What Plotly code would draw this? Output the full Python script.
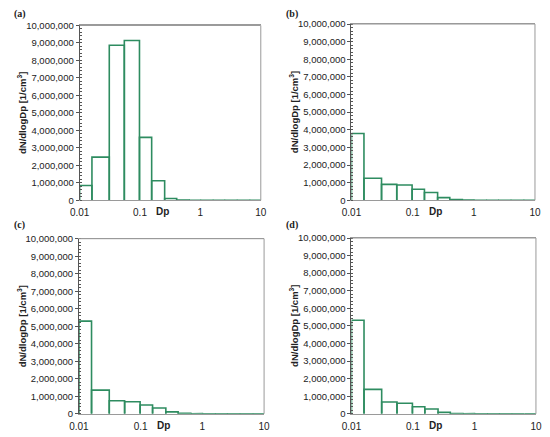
import plotly.graph_objects as go

# Bin edges of the size classes (Dp, µm)
edges = [0.01, 0.016, 0.031, 0.055, 0.098, 0.156, 0.256, 0.405, 0.65, 1.0, 1.6, 2.5, 4.0, 6.5, 10]

# dN/dlogDp per bin for the four panels
vals_a = [850000, 2470000, 8870000, 9140000, 3600000, 1120000, 100000, 15000, 5000, 2000, 1000, 500, 300, 200]
vals_b = [3790000, 1250000, 900000, 870000, 630000, 440000, 150000, 40000, 10000, 4000, 2000, 1000, 500, 300]
vals_c = [5290000, 1350000, 740000, 690000, 500000, 330000, 110000, 20000, 6000, 2000, 1000, 500, 300, 200]
vals_d = [5320000, 1390000, 670000, 600000, 400000, 270000, 80000, 15000, 5000, 2000, 1000, 500, 300, 200]

panel_labels = ["(a)", "(b)", "(c)", "(d)"]
y_ticks = [0, 1000000, 2000000, 3000000, 4000000, 5000000, 6000000, 7000000, 8000000, 9000000, 10000000]
x_ticks = [0.01, 0.1, 1, 10]
x_ticklabels = ["0.01", "0.1", "1", "10"]
y_title = "dN/dlogDp [1/cm<sup>3</sup>]"
x_title = "Dp"

W, H = 550, 437
GREEN = "rgb(46,140,96)"
FONT = "Liberation Sans, Arial, sans-serif"

# plot areas in pixels: (left, right, top, bottom)
areas = [
    (71.7, 258.3, 20.0, 199.3),
    (351.7, 540.7, 18.5, 199.3),
    (71.0, 261.7, 238.7, 418.3),
    (351.7, 541.7, 238.0, 418.3),
]
label_pos = [(2, 8), (282, 8), (2, 225), (282, 225)]
ytitle_x = [12.5, 292.5, 12.5, 292.5]

fig = go.Figure()
all_vals = [vals_a, vals_b, vals_c, vals_d]

for i, vals in enumerate(all_vals):
    xs, ys = [], []
    for k, h in enumerate(vals):
        l, r = edges[k], edges[k + 1]
        xs += [l, l, r, r, None]
        ys += [0, h, h, 0, None]
    ax = "" if i == 0 else str(i + 1)
    fig.add_trace(go.Scatter(x=xs, y=ys, mode="lines",
                             line=dict(color=GREEN, width=1.6),
                             xaxis="x" + ax, yaxis="y" + ax,
                             showlegend=False, hoverinfo="skip"))
    L, R, T, B = areas[i]
    xd = [L / W, R / W]
    yd = [1 - B / H, 1 - T / H]
    fig.update_layout(**{
        "xaxis" + ax: dict(type="log", range=[-2, 1], domain=xd,
                           tickvals=x_ticks, ticktext=x_ticklabels,
                           showgrid=False, zeroline=False, ticks="",
                           ticklabelstandoff=3,
                           showline=True, linecolor="#9a9a9a", linewidth=1,
                           mirror=True,
                           tickfont=dict(family=FONT, size=10, color="#222"),
                           anchor="y" + ax),
        "yaxis" + ax: dict(range=[0, 10000000], domain=yd,
                           tickvals=y_ticks, tickformat=",d",
                           showgrid=False, zeroline=False,
                           ticks="outside", ticklen=3, tickcolor="#555",
                           minor=dict(ticks="inside", ticklen=2, dtick=200000, tickcolor="#555"),
                           showline=True, linecolor="#555", linewidth=1,
                           tickfont=dict(family=FONT, size=9.5, color="#222"),
                           anchor="x" + ax),
    })
    # right/top border of the frame
    fig.add_shape(type="line", xref="x" + ax + " domain", yref="y" + ax + " domain",
                  x0=0, x1=1, y0=1, y1=1, line=dict(color="#9a9a9a", width=1))
    fig.add_shape(type="line", xref="x" + ax + " domain", yref="y" + ax + " domain",
                  x0=1, x1=1, y0=0, y1=1, line=dict(color="#9a9a9a", width=1))
    # Dp label
    fig.add_annotation(text="<b>" + x_title + "</b>", xref="x" + ax + " domain",
                       yref="y" + ax + " domain", x=0.457, y=-0.065,
                       xanchor="center", yanchor="middle", showarrow=False,
                       font=dict(family=FONT, size=10, color="#222"))
    # y title
    fig.add_annotation(text="<b>" + y_title + "</b>", xref="paper", yref="paper",
                       x=ytitle_x[i] / W, y=1 - (T + B) / 2 / H, textangle=-90,
                       xanchor="center", yanchor="middle", showarrow=False,
                       font=dict(family=FONT, size=9.5, color="#222"))
    # panel label
    lx, ly = label_pos[i]
    fig.add_annotation(text="<b>" + panel_labels[i] + "</b>", xref="paper", yref="paper",
                       x=lx / W, y=1 - ly / H, xanchor="left", yanchor="middle",
                       showarrow=False,
                       font=dict(family="Liberation Serif, serif", size=10, color="#222"))

fig.update_layout(width=W, height=H, margin=dict(l=0, r=0, t=0, b=0),
                  paper_bgcolor="white", plot_bgcolor="white")

fig.write_html("out.html", config={"displayModeBar": False},
               post_script="document.body.style.margin='0';document.body.style.overflow='hidden';")
